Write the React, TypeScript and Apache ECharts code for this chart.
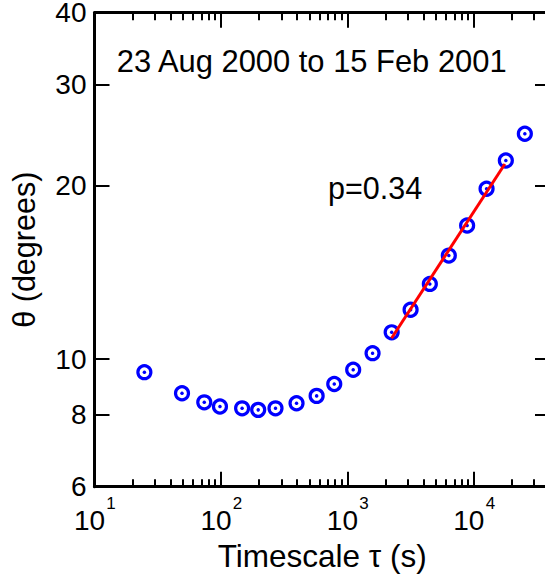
import React, { useEffect, useRef } from "react";
import * as echarts from "echarts";

// Data
const tau = [24.8, 49.2, 73.8, 98.2, 147, 197, 270, 396, 571, 787, 1111, 1581, 2239, 3160, 4486, 6337, 8845, 12600, 17900, 25300];
const theta = [9.49, 8.72, 8.41, 8.27, 8.21, 8.16, 8.21, 8.38, 8.63, 9.05, 9.58, 10.24, 11.13, 12.18, 13.51, 15.13, 17.07, 19.77, 22.14, 24.64];
const fitTau = [2234, 17580];
const fitTheta = [10.87, 21.83];
const xDecades = [10, 100, 1000, 10000];
const xRange = [10, 40000];
const yRange = [6, 40];
const yTickValues = [6, 8, 10, 20, 30, 40];
const titleText = "23 Aug 2000 to 15 Feb 2001";
const fitText = "p=0.34";
const xName = "Timescale τ (s)";
const yName = "θ (degrees)";

const FONT = '"Liberation Sans", Arial, Helvetica, sans-serif';
const lg = (v: number) => Math.log10(v);

export default function App() {
  const ref = useRef<HTMLDivElement>(null);
  useEffect(() => {
    if (!ref.current) return;
    const chart = echarts.init(ref.current, undefined, { renderer: "svg" });

    const xMin = lg(xRange[0]);
    const xMax = lg(xRange[1]);
    const yMin = lg(yRange[0]);
    const yMax = lg(yRange[1]);
    const majorX = xDecades.map(lg);
    const minorX: number[] = [];
    xDecades.forEach((d) => {
      for (let m = 2; m <= 9; m++) {
        if (d * m < xRange[1]) minorX.push(lg(d * m));
      }
    });
    const yTicks = yTickValues.map(lg);
    const topY = yTickValues[yTickValues.length - 1];
    const yLabelsLow = yTickValues.filter((v) => v !== topY).map(lg);
    const yLabelsTop = [lg(topY)];

    const baseX = {
      type: "value" as const,
      min: xMin,
      max: xMax,
      gridIndex: 0,
      splitLine: { show: false },
    };
    const baseY = {
      type: "value" as const,
      min: yMin,
      max: yMax,
      gridIndex: 0,
      splitLine: { show: false },
    };
    const lineStyle = { color: "#000", width: 3 };
    const tickStyle = { color: "#000", width: 2 };
    const yLabelBase = {
      show: true,
      margin: 8,
      color: "#000",
      fontFamily: FONT,
      fontSize: 28,
      formatter: (v: number) => String(Math.round(Math.pow(10, v))),
    };

    const points = tau.map((t, i) => [lg(t), lg(theta[i])]);
    const fit = fitTau.map((t, i) => [lg(t), lg(fitTheta[i])]);

    chart.setOption({
      animation: false,
      backgroundColor: "#fff",
      grid: {
        left: 94.5,
        right: 10,
        top: 12.7,
        bottom: 88.3,
        containLabel: false,
        outerBoundsMode: "none",
      },
      xAxis: [
        {
          ...baseX,
          position: "bottom",
          axisLine: { show: true, onZero: false, lineStyle },
          axisTick: { show: true, inside: true, length: 15, customValues: majorX, lineStyle: tickStyle },
          axisLabel: {
            show: true,
            customValues: majorX,
            margin: 20,
            padding: [0, 10, 0, 0],
            color: "#000",
            fontFamily: FONT,
            fontSize: 28,
            formatter: () => "10",
          },
          name: xName,
          nameLocation: "middle",
          nameGap: 47,
          nameTextStyle: { fontSize: 31.5, fontFamily: FONT, color: "#000" },
        },
        {
          ...baseX,
          position: "bottom",
          axisLine: { show: false, onZero: false },
          axisTick: { show: true, inside: true, length: 7.5, customValues: minorX, lineStyle: tickStyle },
          axisLabel: {
            show: true,
            customValues: majorX,
            margin: 8,
            padding: [0, 0, 0, 33],
            color: "#000",
            fontFamily: FONT,
            fontSize: 17,
            formatter: (v: number) => String(Math.round(v)),
          },
        },
        {
          ...baseX,
          position: "top",
          axisLine: { show: true, onZero: false, lineStyle },
          axisTick: { show: true, inside: true, length: 15, customValues: majorX, lineStyle: tickStyle },
          axisLabel: { show: false },
        },
        {
          ...baseX,
          position: "top",
          axisLine: { show: false, onZero: false },
          axisTick: { show: true, inside: true, length: 7.5, customValues: minorX, lineStyle: tickStyle },
          axisLabel: { show: false },
        },
      ],
      yAxis: [
        {
          ...baseY,
          position: "left",
          axisLine: { show: true, onZero: false, lineStyle },
          axisTick: { show: true, inside: true, length: 15, customValues: yTicks, lineStyle: tickStyle },
          axisLabel: { ...yLabelBase, customValues: yLabelsLow, padding: [3, 0, 0, 0] },
          name: yName,
          nameLocation: "middle",
          nameGap: 55,
          nameTextStyle: { fontSize: 30.5, fontFamily: FONT, color: "#000" },
        },
        {
          ...baseY,
          position: "left",
          axisLine: { show: false, onZero: false },
          axisTick: { show: false },
          axisLabel: { ...yLabelBase, customValues: yLabelsTop, padding: [7, 0, 0, 0] },
        },
        {
          ...baseY,
          position: "right",
          axisLine: { show: true, onZero: false, lineStyle },
          axisTick: { show: true, inside: true, length: 15, customValues: yTicks, lineStyle: tickStyle },
          axisLabel: { show: false },
        },
      ],
      graphic: [
        {
          type: "text",
          x: 116.7,
          y: 61,
          silent: true,
          style: { text: titleText, fill: "#000", font: `30.9px ${FONT}`, align: "left", verticalAlign: "middle" },
        },
        {
          type: "text",
          x: 328,
          y: 188.3,
          silent: true,
          style: { text: fitText, fill: "#000", font: `30.5px ${FONT}`, align: "left", verticalAlign: "middle" },
        },
      ],
      series: [
        {
          type: "scatter",
          xAxisIndex: 0,
          yAxisIndex: 0,
          data: points,
          symbol: "circle",
          symbolSize: 13,
          silent: true,
          z: 2,
          itemStyle: { color: "rgba(0,0,0,0)", borderColor: "#0000ff", borderWidth: 3.2, opacity: 1 },
        },
        {
          type: "scatter",
          xAxisIndex: 0,
          yAxisIndex: 0,
          data: points,
          symbol: "circle",
          symbolSize: 3.5,
          silent: true,
          z: 3,
          itemStyle: { color: "#0000ff", borderWidth: 0, opacity: 1 },
        },
        {
          type: "line",
          xAxisIndex: 0,
          yAxisIndex: 0,
          data: fit,
          showSymbol: false,
          symbol: "none",
          silent: true,
          z: 4,
          lineStyle: { color: "#ff0000", width: 3 },
        },
      ],
    });
    return () => chart.dispose();
  }, []);

  return (
    <div style={{ position: "absolute", left: 0, top: 0, width: 545, height: 575, overflow: "hidden", background: "#fff" }}>
      <div ref={ref} style={{ width: 560, height: 575 }} />
    </div>
  );
}
